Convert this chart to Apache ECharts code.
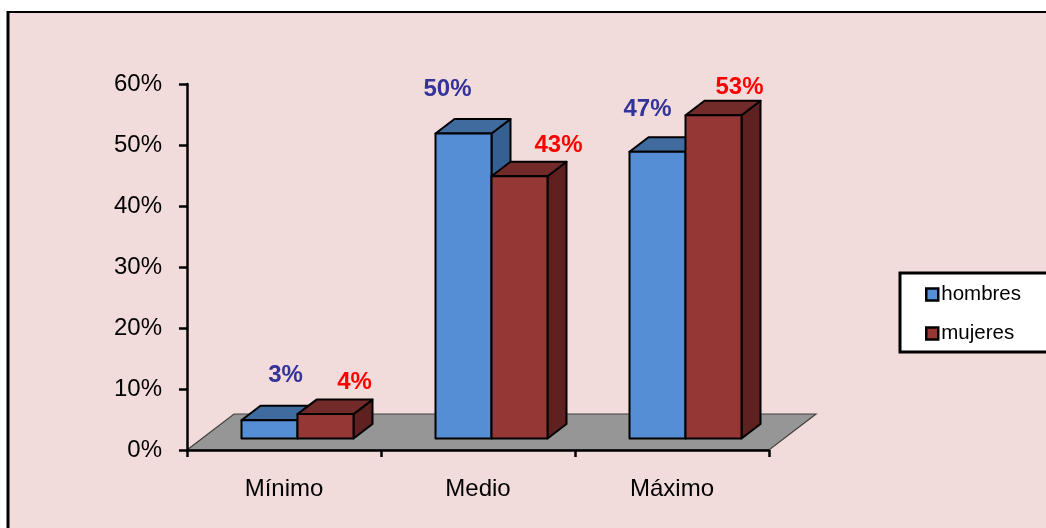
<!DOCTYPE html>
<html>
<head>
<meta charset="utf-8">
<style>html,body{margin:0;padding:0;background:#fff;overflow:hidden}#c{width:1046px;height:528px}</style>
<script src="https://cdn.jsdelivr.net/npm/echarts@6/dist/echarts.min.js"></script>
</head>
<body>
<div id="c"></div>
<script>
const categories = ['Mínimo', 'Medio', 'Máximo'];
const hombres = [3, 50, 47];
const mujeres = [4, 43, 53];

const hombresLabelShift = [[44, -45], [12, -44], [18, -42]];
const mujeresLabelShift = [[57, -32], [67, -31], [54, -28]];

const FONT = '"Liberation Sans", Arial, sans-serif';
const BAR_W = 56, DX = 19, DY = -14.5, FLOOR_DX = 47, FLOOR_DY = -36, LIFT = 11.5;

function barSeries(name, values, colors, textColor, shifts, slot) {
  return {
    name: name,
    type: 'custom',
    z: 5,
    clip: false,
    itemStyle: { color: colors[0] },
    encode: { x: 0, y: 1 },
    data: values.map((v, i) => [i, v]),
    renderItem: function (params, api) {
      const i = api.value(0), v = api.value(1);
      const top = api.coord([i, v]), base = api.coord([i, 0]);
      const x0 = base[0] - 42.5 + slot * BAR_W, x1 = x0 + BAR_W;
      const yb = base[1] - LIFT, yt = top[1] - LIFT;
      const edge = { stroke: '#000', lineWidth: 2, lineJoin: 'round' };
      const poly = (pts, fill) => ({
        type: 'polygon',
        shape: { points: pts },
        style: Object.assign({ fill: fill }, edge)
      });
      return {
        type: 'group',
        children: [
          poly([[x1, yt], [x1 + DX, yt + DY], [x1 + DX, yb + DY], [x1, yb]], colors[2]),
          poly([[x0, yt], [x0 + DX, yt + DY], [x1 + DX, yt + DY], [x1, yt]], colors[1]),
          poly([[x0, yt], [x1, yt], [x1, yb], [x0, yb]], colors[0]),
          {
            type: 'text',
            style: {
              x: x0 + shifts[i][0],
              y: yt + shifts[i][1],
              text: v + '%',
              fill: textColor,
              font: 'bold 24px ' + FONT,
              align: 'center',
              verticalAlign: 'middle'
            }
          }
        ]
      };
    }
  };
}

const chart = echarts.init(document.getElementById('c'), null, { renderer: 'canvas' });
chart.setOption({
  animation: false,
  backgroundColor: '#ffffff',
  graphic: [
    { type: 'rect', z: -10, silent: true, shape: { x: 8, y: 12, width: 1100, height: 600 }, style: { fill: '#F2DCDB' } },
    { type: 'line', z: -9, silent: true, shape: { x1: 8, y1: 11, x2: 8, y2: 528 }, style: { stroke: '#000', lineWidth: 3 } },
    { type: 'line', z: -9, silent: true, shape: { x1: 7, y1: 12, x2: 1046, y2: 12 }, style: { stroke: '#000', lineWidth: 2 } }
  ],
  grid: { left: 187, right: 277, top: 84, bottom: 78 },
  xAxis: {
    type: 'category',
    data: categories,
    z: 4,
    axisLine: { show: true, lineStyle: { color: '#000', width: 2.5 } },
    axisTick: { show: true, length: 7, lineStyle: { color: '#000', width: 2.5 } },
    axisLabel: { color: '#000', fontFamily: FONT, fontSize: 24, margin: 27 }
  },
  yAxis: {
    type: 'value',
    min: 0, max: 60, interval: 10,
    z: 4,
    axisLine: { show: true, lineStyle: { color: '#000', width: 2.5 } },
    axisTick: { show: true, length: 8, lineStyle: { color: '#000', width: 2.5 } },
    splitLine: { show: false },
    axisLabel: { color: '#000', fontFamily: FONT, fontSize: 24, margin: 25, padding: [2, 0, 0, 0], formatter: '{value}%' }
  },
  legend: {
    orient: 'vertical',
    left: 900,
    top: 273,
    padding: [11, 60, 8, 25],
    backgroundColor: '#fff',
    borderColor: '#000',
    borderWidth: 3,
    itemWidth: 12,
    itemHeight: 12,
    itemGap: 18,
    icon: 'rect',
    data: ['hombres', 'mujeres'],
    itemStyle: { borderColor: '#000', borderWidth: 2.5 },
    textStyle: { color: '#000', fontFamily: FONT, fontSize: 20.5, padding: [0, 0, 0, -2] }
  },
  series: [
    {
      type: 'custom',
      z: 1,
      clip: false,
      silent: true,
      encode: { x: 0, y: 1 },
      data: [[0, 0]],
      renderItem: function (params, api) {
        const half = api.size([1, 0])[0] / 2;
        const a = api.coord([0, 0]), b = api.coord([categories.length - 1, 0]);
        const l = a[0] - half, r = b[0] + half, y = a[1];
        return {
          type: 'polygon',
          shape: { points: [[l, y], [r, y], [r + FLOOR_DX, y + FLOOR_DY], [l + FLOOR_DX, y + FLOOR_DY]] },
          style: { fill: '#969696', stroke: '#404040', lineWidth: 1.2 }
        };
      }
    },
    barSeries('hombres', hombres, ['#558ED5', '#3F6B9F', '#376092'], '#333399', hombresLabelShift, 0),
    barSeries('mujeres', mujeres, ['#953735', '#722B29', '#5F2120'], '#FF0000', mujeresLabelShift, 1)
  ]
});
</script>
</body>
</html>
